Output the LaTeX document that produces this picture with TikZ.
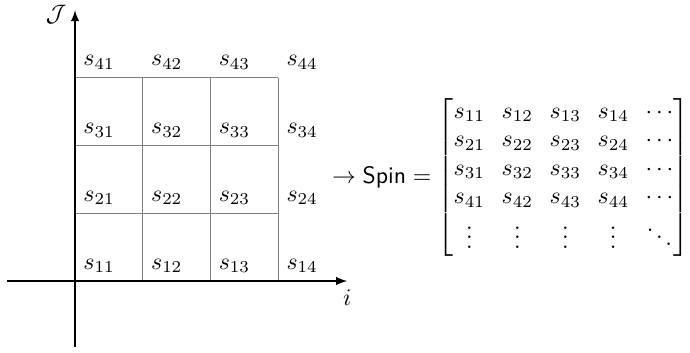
\documentclass[tikz,border=0pt]{standalone}
\usepackage{amsmath}
\begin{document}
\begin{tikzpicture}[
  gridline/.style={draw=gray, line width=0.4pt},
  axis/.style={draw=black, line width=0.6pt, -latex},
  spinlabel/.style={anchor=south west}
]
\useasboundingbox (-1.108,-1.049) rectangle (9.084,4.151);
% lattice cells
\draw[gridline] (0,0) grid (3,3);
% axes
\coordinate (xstart) at (-1,0);
\coordinate (xend) at (4.02,0);
\coordinate (ystart) at (0,-0.975);
\coordinate (yend) at (0,4.0);
\draw[axis] (xstart) -- (xend) node[below] (ilab) {$i$};
\draw[axis] (ystart) -- (yend) node[left, inner sep=2pt, xshift=-1.3pt, yshift=-2pt] (jlab) {$\mathcal{J}$};
% spin labels at lattice sites
\foreach \r in {1,...,4}{
  \foreach \c in {1,...,4}{
    \node[spinlabel] (s\r\c) at (\c-1,\r-1) {$s_{\r\c}$};
  }
}
% the spin matrix
\node[anchor=east, inner sep=0pt] (spin) at (9.08,1.53) {\setlength{\arraycolsep}{3.5pt}$\rightarrow \textsf{Spin} =
  \begin{bmatrix}
    s_{11} & s_{12} & s_{13} & s_{14} & \cdots\\
    s_{21} & s_{22} & s_{23} & s_{24} & \cdots\\
    s_{31} & s_{32} & s_{33} & s_{34} & \cdots\\
    s_{41} & s_{42} & s_{43} & s_{44} & \cdots\\
    \vdots & \vdots & \vdots & \vdots & \ddots
  \end{bmatrix}$};
\end{tikzpicture}
\end{document}
